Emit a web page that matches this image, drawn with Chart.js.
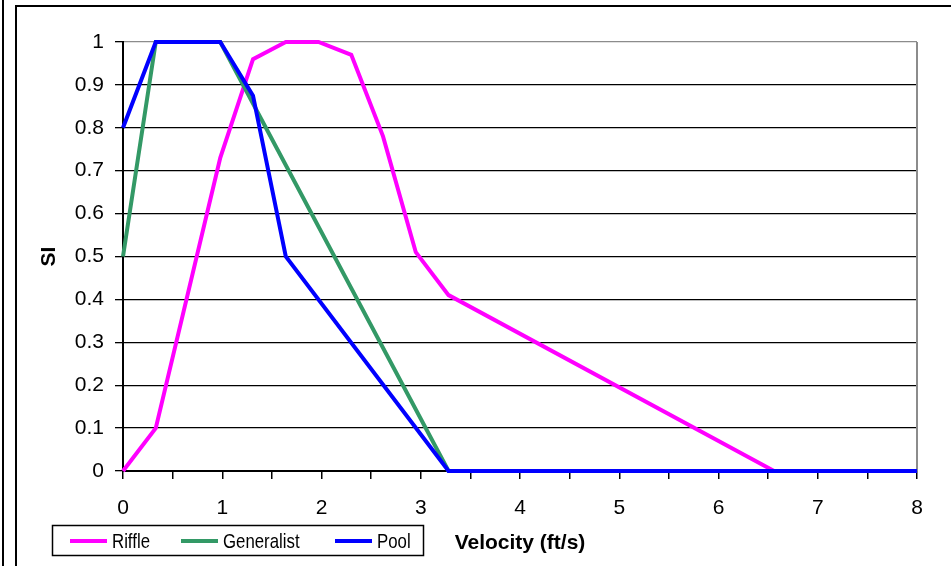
<!DOCTYPE html>
<html>
<head>
<meta charset="utf-8">
<script src="https://cdn.jsdelivr.net/npm/chart.js@4.4.1/dist/chart.umd.min.js"></script>
<style>
  html, body { margin: 0; padding: 0; background: #fff; }
  canvas { display: block; }
</style>
</head>
<body>
<canvas id="siChart" width="951" height="566"></canvas>
<script>
// velocity (ft/s) and suitability index
var riffleX = [0, 0.33, 0.98, 1.31, 1.64, 1.97, 2.3, 2.62, 2.95, 3.28, 6.56, 8];
var riffleY = [0, 0.1, 0.73, 0.96, 1, 1, 0.97, 0.78, 0.51, 0.41, 0, 0];

var generalistX = [0, 0.33, 0.98, 3.28, 8];
var generalistY = [0.5, 1, 1, 0, 0];

var poolX = [0, 0.33, 0.98, 1.31, 1.64, 3.28, 8];
var poolY = [0.8, 1, 1, 0.875, 0.5, 0, 0];

var seriesNames = ["Riffle", "Generalist", "Pool"];
var seriesColors = ["#ff00ff", "#339966", "#0000ff"];

var xTickLabels = ["0", "1", "2", "3", "4", "5", "6", "7", "8"];
var yTickLabels = ["0", "0.1", "0.2", "0.3", "0.4", "0.5", "0.6", "0.7", "0.8", "0.9", "1"];

function toPoints(xs, ys) {
    return xs.map(function (x, i) { return { x: x, y: ys[i] }; });
}

var fontFamily = "Arial, 'Liberation Sans', sans-serif";

// frame lines, plot border on the right, and the boxed legend
var framePlugin = {
    id: "frame",
    beforeDraw: function (chart) {
        var ctx = chart.ctx;
        ctx.save();
        ctx.strokeStyle = "#000";
        ctx.lineWidth = 2;
        ctx.beginPath();
        ctx.moveTo(3, 0); ctx.lineTo(3, 566);
        ctx.moveTo(16, 566); ctx.lineTo(16, 6); ctx.lineTo(951, 6);
        ctx.stroke();
        ctx.restore();
    },
    beforeDatasetsDraw: function (chart) {
        var a = chart.chartArea;
        var ctx = chart.ctx;
        ctx.save();
        ctx.strokeStyle = "#8c8c8c";
        ctx.lineWidth = 2;
        ctx.beginPath();
        ctx.moveTo(a.right, a.top);
        ctx.lineTo(a.right, a.bottom);
        ctx.stroke();
        ctx.restore();
    },
    afterDraw: function (chart) {
        var ctx = chart.ctx;
        ctx.save();
        ctx.strokeStyle = "#000";
        ctx.lineWidth = 1.5;
        ctx.strokeRect(52.5, 525.5, 371, 30);
        var sampleX = [70, 181, 335];
        var cy = 541;
        chart.data.datasets.forEach(function (ds, i) {
            ctx.strokeStyle = ds.borderColor;
            ctx.lineWidth = 4;
            ctx.beginPath();
            ctx.moveTo(sampleX[i], cy);
            ctx.lineTo(sampleX[i] + 37, cy);
            ctx.stroke();
            ctx.save();
            ctx.translate(sampleX[i] + 42, cy);
            ctx.scale(0.8, 1);
            ctx.fillStyle = "#000";
            ctx.font = "21px " + fontFamily;
            ctx.textBaseline = "middle";
            ctx.textAlign = "left";
            ctx.fillText(ds.label, 0, 1);
            ctx.restore();
        });
        ctx.restore();
    }
};

var config = {
    type: "line",
    data: {
        datasets: [
            {
                label: seriesNames[0],
                data: toPoints(riffleX, riffleY),
                borderColor: seriesColors[0],
                order: 2
            },
            {
                label: seriesNames[1],
                data: toPoints(generalistX, generalistY),
                borderColor: seriesColors[1],
                order: 1
            },
            {
                label: seriesNames[2],
                data: toPoints(poolX, poolY),
                borderColor: seriesColors[2],
                order: 0
            }
        ]
    },
    options: {
        responsive: false,
        animation: false,
        clip: false,
        layout: {
            padding: { left: 0, top: 42, right: 34, bottom: 0 }
        },
        elements: {
            line: { borderWidth: 4, tension: 0, fill: false, borderJoinStyle: "miter" },
            point: { radius: 0, hoverRadius: 0 }
        },
        plugins: {
            legend: { display: false },
            tooltip: { enabled: false }
        },
        scales: {
            x: {
                type: "linear",
                min: 0,
                max: 8,
                afterFit: function (scale) { scale.height = 95; },
                ticks: {
                    stepSize: 0.5,
                    autoSkip: false,
                    maxRotation: 0,
                    padding: 17,
                    color: "#000",
                    font: { family: fontFamily, size: 21 },
                    callback: function (v, i) {
                        return i % 2 === 0 ? xTickLabels[i / 2] : "";
                    }
                },
                grid: {
                    drawOnChartArea: false,
                    drawTicks: true,
                    tickLength: 8,
                    color: "#000",
                    lineWidth: 1.5
                },
                border: { display: true, color: "#000", width: 2 },
                title: {
                    display: true,
                    text: "Velocity (ft/s)",
                    color: "#000",
                    font: { family: fontFamily, size: 21, weight: "bold", lineHeight: 1.2 },
                    padding: { top: 0, bottom: 10 }
                }
            },
            y: {
                min: 0,
                max: 1,
                afterFit: function (scale) { scale.width = 123; },
                ticks: {
                    stepSize: 0.1,
                    padding: 11,
                    color: "#000",
                    font: { family: fontFamily, size: 21 },
                    callback: function (v, i) { return yTickLabels[i]; }
                },
                grid: {
                    drawTicks: true,
                    tickLength: 8,
                    color: function (c) {
                        return c.tick && c.tick.value === 1 ? "#8c8c8c" : "#000";
                    },
                    tickColor: "#000",
                    lineWidth: 1.3
                },
                border: { display: true, color: "#000", width: 2 },
                title: {
                    display: true,
                    text: "SI",
                    color: "#000",
                    font: { family: fontFamily, size: 21, weight: "bold", lineHeight: 1.2 },
                    padding: { top: 37, bottom: 0 }
                }
            }
        }
    },
    plugins: [framePlugin]
};

var siChart = new Chart(document.getElementById("siChart"), config);
</script>
</body>
</html>
